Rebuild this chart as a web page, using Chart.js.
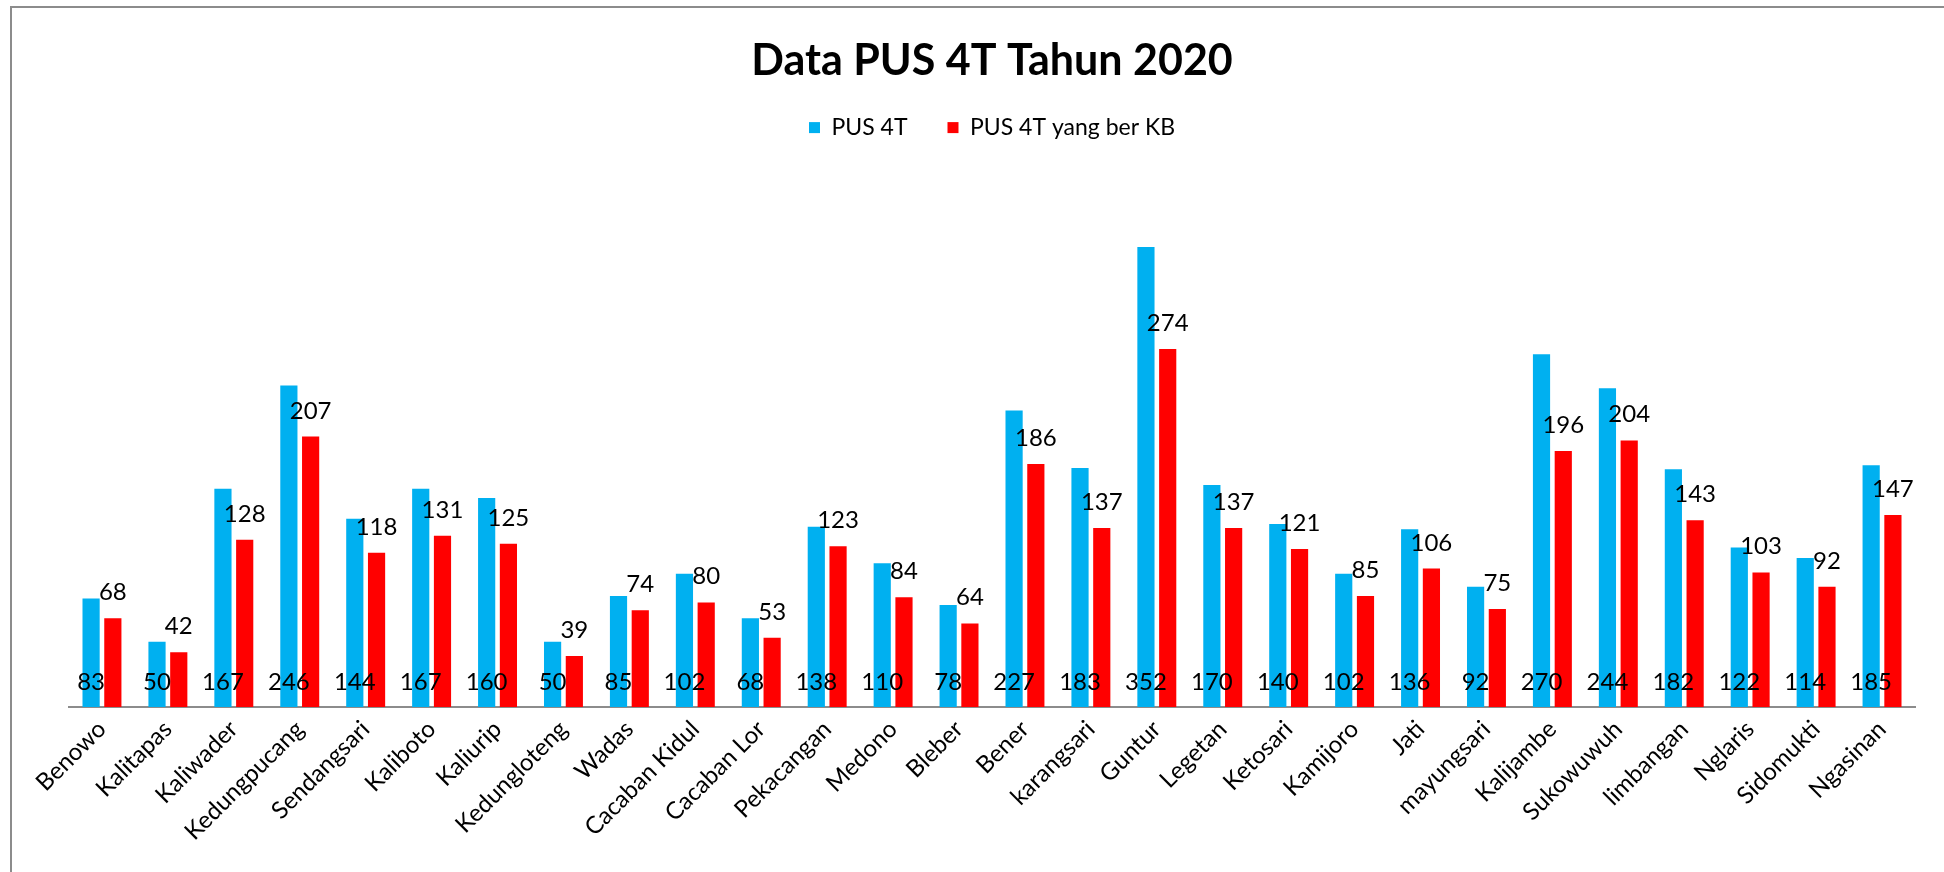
<!DOCTYPE html>
<html>
<head>
<meta charset="utf-8">
<script src="https://cdn.jsdelivr.net/npm/chart.js@4"></script>
<style>
  html, body { margin: 0; padding: 0; background: #fff; overflow: hidden; }
  .frame {
    position: absolute; left: 10px; top: 6px; width: 2000px; height: 900px;
    border-left: 2px solid #8c8c8c; border-top: 2px solid #8c8c8c;
  }
  .chart-box { position: absolute; left: 0; top: 0; width: 1944px; height: 872px; }
</style>
</head>
<body>
<div class="frame"></div>
<div class="chart-box"><canvas id="pusChart"></canvas></div>
<script>
const desa = ["Benowo", "Kalitapas", "Kaliwader", "Kedungpucang", "Sendangsari", "Kaliboto", "Kaliurip",
  "Kedungloteng", "Wadas", "Cacaban Kidul", "Cacaban Lor", "Pekacangan", "Medono", "Bleber", "Bener",
  "karangsari", "Guntur", "Legetan", "Ketosari", "Kamijoro", "Jati", "mayungsari", "Kalijambe",
  "Sukowuwuh", "limbangan", "Nglaris", "Sidomukti", "Ngasinan"];
const pus4t = [83, 50, 167, 246, 144, 167, 160, 50, 85, 102, 68, 138, 110, 78, 227,
  183, 352, 170, 140, 102, 136, 92, 270, 244, 182, 122, 114, 185];
const pus4tKb = [68, 42, 128, 207, 118, 131, 125, 39, 74, 80, 53, 123, 84, 64, 186,
  137, 274, 137, 121, 85, 106, 75, 196, 204, 143, 103, 92, 147];

const FONT = "Lato, 'Open Sans', sans-serif";

// value labels: blue at the base, red above its bar
const valueLabels = {
  id: "valueLabels",
  afterDatasetsDraw(chart) {
    const ctx = chart.ctx;
    const base = chart.scales.y.getPixelForValue(0);
    ctx.save();
    ctx.font = "24px " + FONT;
    ctx.fillStyle = "#000";
    ctx.textAlign = "center";
    ctx.textBaseline = "alphabetic";
    chart.getDatasetMeta(0).data.forEach((bar, i) => {
      ctx.fillText(pus4t[i], bar.x, base - 17);
    });
    chart.getDatasetMeta(1).data.forEach((bar, i) => {
      ctx.fillText(pus4tKb[i], bar.x, bar.y - 18);
    });
    ctx.restore();
  }
};

const ctx = document.getElementById("pusChart").getContext("2d");
const chart = new Chart(ctx, {
  type: "bar",
  data: {
    labels: desa,
    datasets: [
      {
        label: "PUS 4T",
        data: pus4t,
        backgroundColor: "#00b0f0",
        categoryPercentage: 0.66,
        barPercentage: 0.79
      },
      {
        label: "PUS 4T yang ber KB",
        data: pus4tKb,
        backgroundColor: "#ff0000",
        categoryPercentage: 0.66,
        barPercentage: 0.79
      }
    ]
  },
  options: {
    responsive: true,
    maintainAspectRatio: false,
    animation: false,
    layout: { padding: { left: 69, right: 29, top: 0, bottom: 18 } },
    plugins: {
      title: {
        display: true,
        text: "Data PUS 4T Tahun 2020",
        color: "#000",
        font: { family: FONT, size: 43, weight: "bold", lineHeight: 0.7 },
        padding: { top: 46, bottom: 0 }
      },
      legend: {
        display: true,
        labels: {
          color: "#000",
          font: { family: FONT, size: 23 },
          boxWidth: 11,
          boxHeight: 11,
          padding: 40
        }
      },
      tooltip: { enabled: false }
    },
    scales: {
      x: {
        grid: { display: false, drawTicks: false },
        border: { display: true, color: "#8c8c8c", width: 2 },
        ticks: {
          color: "#000",
          font: { family: FONT, size: 24 },
          minRotation: 45,
          maxRotation: 45,
          autoSkip: false,
          padding: 8
        }
      },
      y: {
        display: false,
        min: 0,
        max: 427
      }
    }
  },
  plugins: [valueLabels]
});
</script>
</body>
</html>
